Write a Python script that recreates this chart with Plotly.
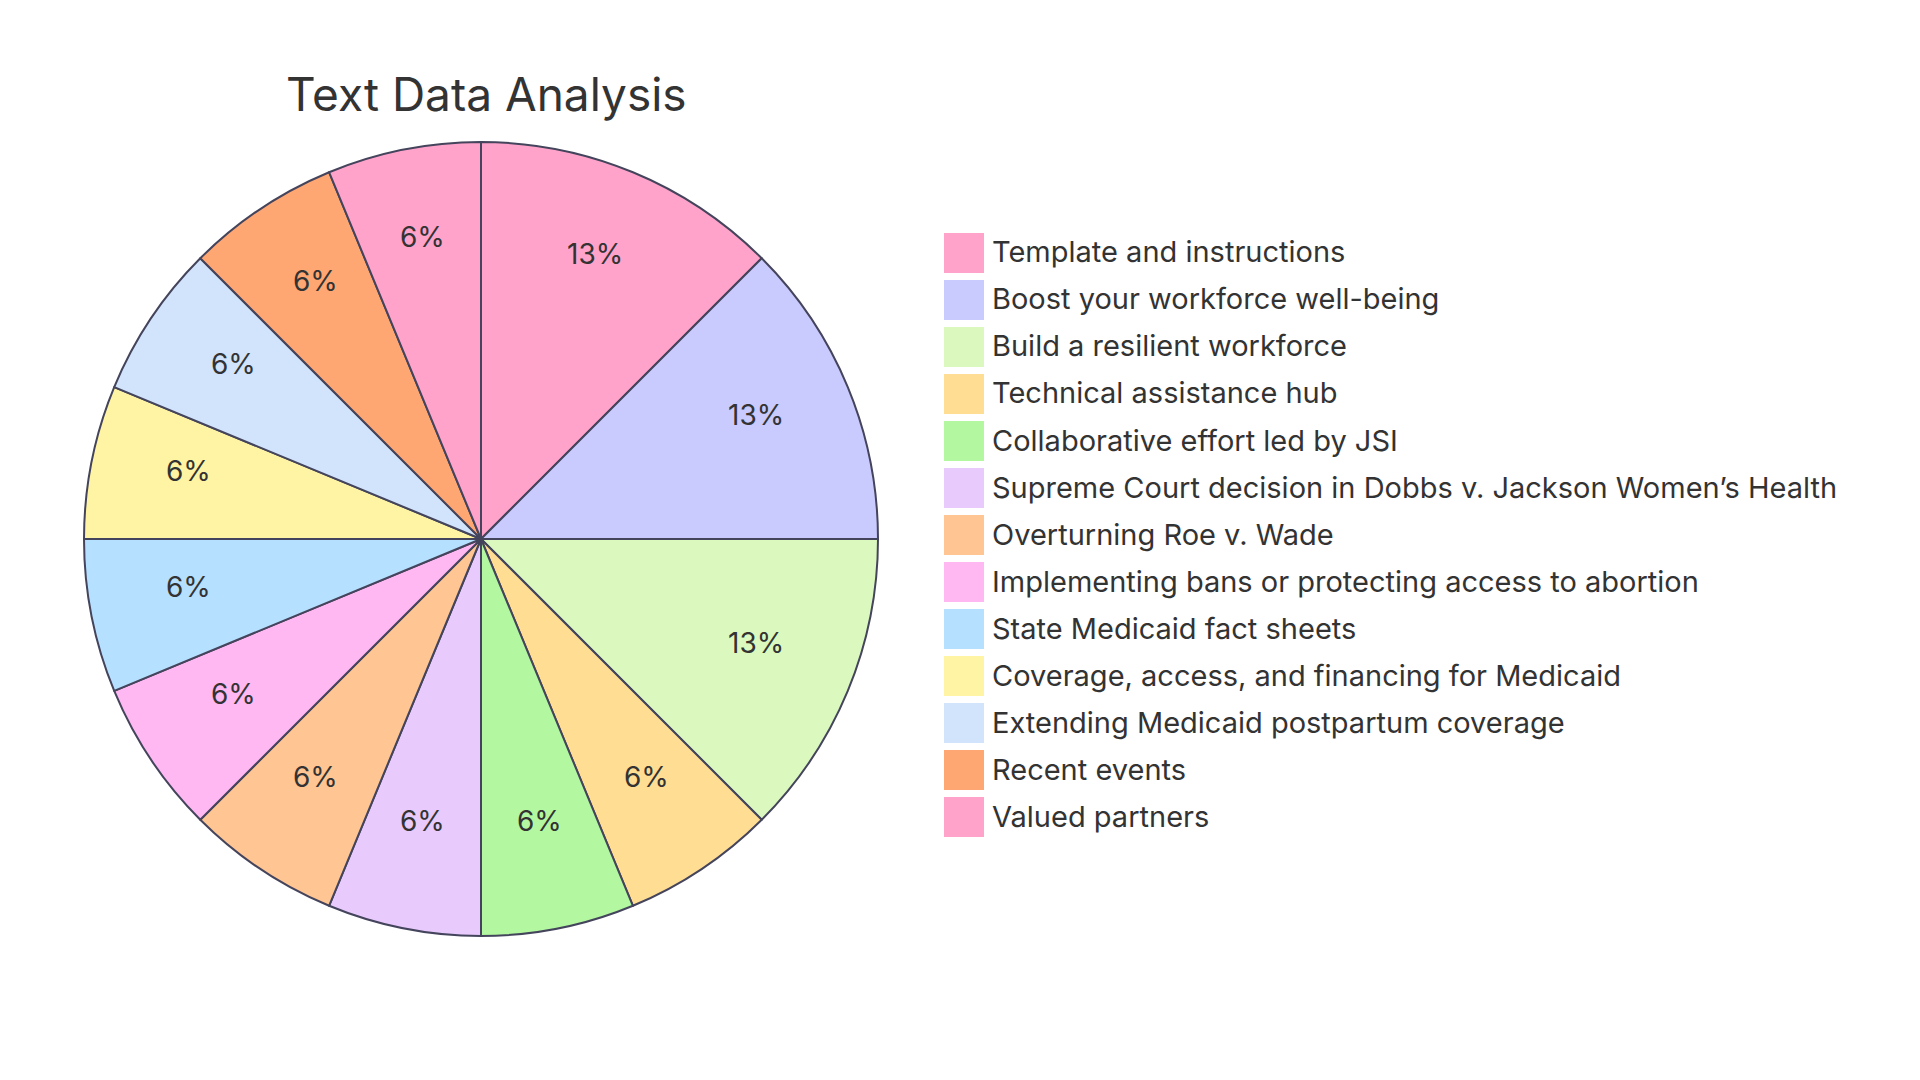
import numpy as np
import plotly.graph_objects as go

title = "Text Data Analysis"
labels = [
    "Template and instructions",
    "Boost your workforce well-being",
    "Build a resilient workforce",
    "Technical assistance hub",
    "Collaborative effort led by JSI",
    "Supreme Court decision in Dobbs v. Jackson Women\u2019s Health",
    "Overturning Roe v. Wade",
    "Implementing bans or protecting access to abortion",
    "State Medicaid fact sheets",
    "Coverage, access, and financing for Medicaid",
    "Extending Medicaid postpartum coverage",
    "Recent events",
    "Valued partners",
]
values = [2, 2, 2, 1, 1, 1, 1, 1, 1, 1, 1, 1, 1]
colors = [
    "#FFA3CB", "#C9CAFD", "#DBF9BE", "#FFDE93", "#B3F8A0", "#E8CBFC",
    "#FFC592", "#FFB8F2", "#B6E0FF", "#FFF4A3", "#D1E4FB", "#FFA773", "#FFA3CB",
]

W, H = 1920, 1080
OFF = 8  # page body margin
FONT = "Inter, Noto Sans, sans-serif"
TXT = "#333333"
EDGE = "#44445C"

# pie geometry (pixels in window)
cx, cy, R = 481 - OFF, 539 - OFF, 397

def px2x(p):
    return p / W

def py2y(p):
    return 1 - p / H

fig = go.Figure()
fig.add_trace(go.Pie(
    labels=labels, values=values, sort=False, direction="clockwise", rotation=0,
    marker=dict(colors=colors, line=dict(color=EDGE, width=2)),
    textinfo="none", hoverinfo="label+percent", showlegend=False,
    domain=dict(x=[(cx - R) / W, (cx + R) / W], y=[(H - cy - R) / H, (H - cy + R) / H]),
))

vals = np.array(values, dtype=float)
total = vals.sum()
cum = np.cumsum(vals) - vals / 2
ann = []
for v, c in zip(vals, cum):
    th = 2 * np.pi * c / total
    r = 0.75 * R
    px = cx + r * np.sin(th)
    py = cy - r * np.cos(th) - 10  # text sits on its baseline at the centroid
    ann.append(dict(
        x=px2x(px), y=py2y(py), xref="paper", yref="paper", showarrow=False,
        text=f"{int(v / total * 100 + 0.5)}%",
        font=dict(family=FONT, size=28, color=TXT), xanchor="center", yanchor="middle",
    ))

# custom legend
shapes = []
lx, ly0, step, sq = 944 - OFF, 233 - OFF, 47, 40
for i, (lab, col) in enumerate(zip(labels, colors)):
    top = ly0 + i * step
    shapes.append(dict(
        type="rect", xref="paper", yref="paper",
        x0=px2x(lx), x1=px2x(lx + sq), y0=py2y(top + sq), y1=py2y(top),
        fillcolor=col, line=dict(width=0),
    ))
    ann.append(dict(
        x=px2x(lx + sq + 6), y=py2y(top + sq / 2 - 1), xref="paper", yref="paper",
        showarrow=False, text=lab, xanchor="left", yanchor="middle",
        font=dict(family=FONT, size=29, color=TXT),
    ))

ann.append(dict(
    x=px2x(284 - OFF), y=py2y(94 - OFF), xref="paper", yref="paper", showarrow=False,
    text=title, xanchor="left", yanchor="middle",
    font=dict(family=FONT, size=46, color=TXT),
))

fig.update_layout(
    width=W, height=H, margin=dict(l=0, r=0, t=0, b=0),
    paper_bgcolor="white", plot_bgcolor="white",
    annotations=ann, shapes=shapes,
)
fig.write_html("out.html")
